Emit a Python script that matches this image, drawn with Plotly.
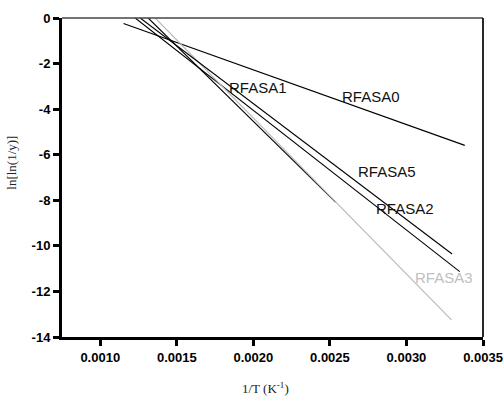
import plotly.graph_objects as go

# Series: straight-line fits (start/end points)
series_names = ["RFASA0", "RFASA1", "RFASA2", "RFASA3", "RFASA5"]
x_start = [0.001152, 0.001313, 0.001228, 0.001359, 0.001261]
x_end = [0.003381, 0.002537, 0.003348, 0.003294, 0.003298]
y_start = [-0.24, 0.0, 0.0, 0.0, 0.0]
y_end = [-5.59, -8.08, -11.13, -13.25, -10.36]
line_colors = ["#000000", "#000000", "#000000", "#b8b8b8", "#000000"]

# Label positions (data coordinates)
label_x = [0.002767, 0.002030, 0.002989, 0.003244, 0.002872]
label_y = [-3.45, -3.05, -8.37, -11.41, -6.75]

x_ticks = [0.0010, 0.0015, 0.0020, 0.0025, 0.0030, 0.0035]
x_ticktext = ["0.0010", "0.0015", "0.0020", "0.0025", "0.0030", "0.0035"]
y_ticks = [0, -2, -4, -6, -8, -10, -12, -14]
y_ticktext = ["0", "-2", "-4", "-6", "-8", "-10", "-12", "-14"]

fig = go.Figure()
for i, name in enumerate(series_names):
    fig.add_trace(go.Scatter(
        x=[x_start[i], x_end[i]], y=[y_start[i], y_end[i]],
        mode="lines", name=name,
        line=dict(color=line_colors[i], width=1.1),
        showlegend=False, hoverinfo="skip"))

for i, name in enumerate(series_names):
    fig.add_annotation(x=label_x[i], y=label_y[i], text=name, showarrow=False,
                       font=dict(family="Liberation Sans, Arial", size=15,
                                 color="#c0c0c0" if name == "RFASA3" else "#111111"),
                       xanchor="center", yanchor="middle")

fig.add_annotation(xref="paper", yref="paper", x=0.483, y=-0.16,
                   text="1/T (K<sup>-1</sup>)", showarrow=False,
                   font=dict(family="Liberation Serif, Times New Roman", size=13, color="#222"),
                   xanchor="center", yanchor="middle")
fig.add_annotation(xref="paper", yref="paper", x=-0.119, y=0.546,
                   text="ln[ln(1/y)]", showarrow=False, textangle=-90,
                   font=dict(family="Liberation Serif, Times New Roman", size=13, color="#222"),
                   xanchor="center", yanchor="middle")

# thin top/right frame
fig.add_shape(type="line", xref="paper", yref="paper", x0=0, x1=1, y0=1, y1=1,
              line=dict(color="#444", width=1.5))
fig.add_shape(type="line", xref="paper", yref="paper", x0=1, x1=1, y0=0, y1=1,
              line=dict(color="#111", width=1.8))

fig.update_xaxes(range=[0.00075, 0.0035], tickvals=x_ticks, ticktext=x_ticktext,
                 automargin=False,
                 showgrid=False, zeroline=False, showline=True, linecolor="black",
                 linewidth=3, ticks="outside", ticklen=6, tickwidth=2.5, tickcolor="black",
                 tickfont=dict(family="Liberation Sans, Arial", size=13, color="black",
                               weight="bold"))
fig.update_yaxes(range=[-14, 0], tickvals=y_ticks, ticktext=y_ticktext,
                 automargin=False,
                 showgrid=False, zeroline=False, showline=True, linecolor="black",
                 linewidth=3, ticks="outside", ticklen=6, tickwidth=2.5, tickcolor="black",
                 tickfont=dict(family="Liberation Sans, Arial", size=13, color="black",
                               weight="bold"))

fig.update_layout(width=504, height=403, autosize=False,
                  margin=dict(l=62, r=21, t=18, b=66),
                  paper_bgcolor="white", plot_bgcolor="white")

fig.write_html("out.html",
               config={"displayModeBar": False, "responsive": False},
               post_script="document.body.style.margin='0';document.body.style.overflow='hidden';")
